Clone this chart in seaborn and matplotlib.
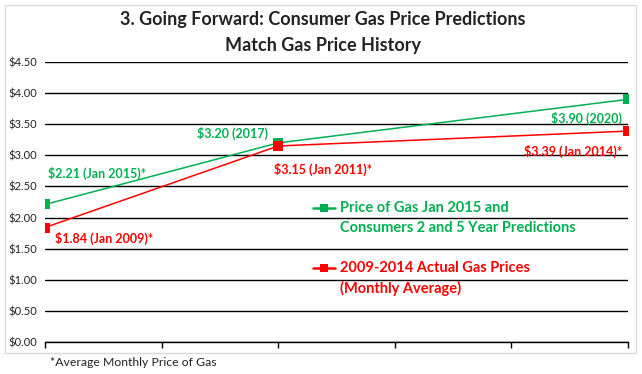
import matplotlib
matplotlib.use("Agg")
import matplotlib.pyplot as plt
import seaborn as sns
import pandas as pd
from matplotlib.lines import Line2D

# Data
x_pos = [0, 2, 5]
pred_prices = [2.21, 3.20, 3.90]
pred_labels = ["$2.21 (Jan 2015)*", "$3.20 (2017)", "$3.90 (2020)"]
hist_prices = [1.84, 3.15, 3.39]
hist_labels = ["$1.84 (Jan 2009)*", "$3.15 (Jan 2011)*", "$3.39 (Jan 2014)*"]
series_names = ["Price of Gas Jan 2015 and\nConsumers 2 and 5 Year Predictions",
                "2009-2014 Actual Gas Prices\n(Monthly Average)"]
y_ticks = [0, 0.5, 1.0, 1.5, 2.0, 2.5, 3.0, 3.5, 4.0, 4.5]

GREEN = "#00B050"
RED = "#FF0000"

df = pd.DataFrame({
    "x": x_pos + x_pos,
    "price": pred_prices + hist_prices,
    "series": [series_names[0]] * 3 + [series_names[1]] * 3,
})

sns.set_style("white")
plt.rcParams["font.family"] = ["Lato", "DejaVu Sans"]

L, R, T, B = 45, 628, 62, 342
fig = plt.figure(figsize=(6.42, 3.74), dpi=100)
ax = fig.add_axes([L / 642, 1 - B / 374, (R - L) / 642, (B - T) / 374])

sns.lineplot(data=df, x="x", y="price", hue="series",
             palette=[GREEN, RED], marker="s", markersize=6.5,
             markeredgewidth=0, linewidth=1.1, ax=ax, legend=False)

ax.set_xlim(0, 5)
ax.set_ylim(0, 4.5)
ax.set_yticks(y_ticks)
ax.set_yticklabels([f"${v:.2f}" for v in y_ticks], fontsize=8, color="#222222")
ax.set_xticks([0, 1, 2, 3, 4, 5])
ax.set_xticklabels([])
ax.tick_params(axis="x", direction="out", length=4, width=1, color="black", bottom=True)
ax.tick_params(axis="y", length=0, pad=6)
ax.set_xlabel("")
ax.set_ylabel("")
ax.grid(axis="y", color="black", linewidth=1)
ax.grid(axis="x", visible=False)
for s in ["left", "right", "top"]:
    ax.spines[s].set_visible(False)
ax.spines["bottom"].set_color("black")
ax.spines["bottom"].set_linewidth(1)
ax.set_axisbelow(True)

fw = dict(fontsize=9, fontweight="bold")
# Prediction labels
ax.annotate(pred_labels[0], (x_pos[0], pred_prices[0]), xytext=(2, 22),
            textcoords="offset points", color=GREEN, ha="left", va="center", **fw)
ax.annotate(pred_labels[1], (x_pos[1], pred_prices[1]), xytext=(-7, 7),
            textcoords="offset points", color=GREEN, ha="right", va="center", **fw)
ax.annotate(pred_labels[2], (x_pos[2], pred_prices[2]), xytext=(-4, -14),
            textcoords="offset points", color=GREEN, ha="right", va="center", **fw)
# History labels
ax.annotate(hist_labels[0], (x_pos[0], hist_prices[0]), xytext=(7, -8),
            textcoords="offset points", color=RED, ha="left", va="center", **fw)
ax.annotate(hist_labels[1], (x_pos[1], hist_prices[1]), xytext=(-3, -17),
            textcoords="offset points", color=RED, ha="left", va="center", **fw)
ax.annotate(hist_labels[2], (x_pos[2], hist_prices[2]), xytext=(-4, -15),
            textcoords="offset points", color=RED, ha="right", va="center", **fw)

# Legend (handle aligned with first text line)
def fx(px):
    return (px - L) / (R - L)

def fy(py):
    return (B - py) / (B - T)

for name, col, py in [(series_names[0], GREEN, 208), (series_names[1], RED, 268)]:
    ax.add_line(Line2D([fx(313), fx(335)], [fy(py), fy(py)], transform=ax.transAxes,
                       color=col, linewidth=1.8, clip_on=False))
    ax.add_line(Line2D([fx(324)], [fy(py)], transform=ax.transAxes, color=col,
                       marker="s", markersize=6, markeredgewidth=0, clip_on=False))
    for i, line in enumerate(name.split("\n")):
        ax.text(fx(340), fy(py + 20 * i), line, transform=ax.transAxes, color=col,
                ha="left", va="center", fontsize=10.5, fontweight="bold")

fig.text(323 / 642, 1 - 19 / 374, "3. Going Forward: Consumer Gas Price Predictions",
         ha="center", va="center", fontsize=13, fontweight="bold", color="#222222")
fig.text(323 / 642, 1 - 45 / 374, "Match Gas Price History",
         ha="center", va="center", fontsize=13, fontweight="bold", color="#222222")
fig.text(50 / 642, 1 - 362 / 374, "*Average Monthly Price of Gas",
         ha="left", va="center", fontsize=8.8, color="#222222")

# light chart border
border = plt.Rectangle((5 / 642, 1 - 353 / 374), 631 / 642, 348 / 374,
                       transform=fig.transFigure, fill=False, edgecolor="#D9D9D9", linewidth=1)
fig.add_artist(border)

fig.savefig("out.png", dpi=100)
